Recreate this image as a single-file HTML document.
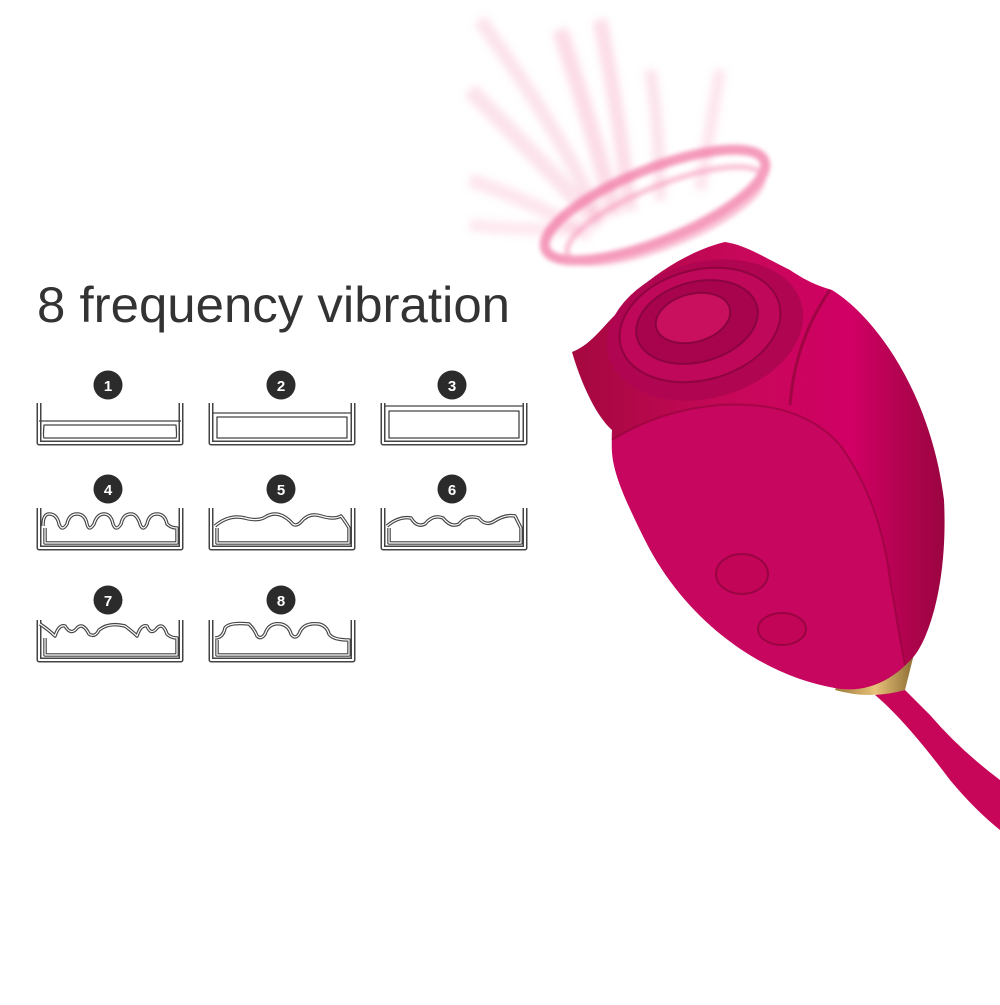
<!DOCTYPE html>
<html><head><meta charset="utf-8"><style>
body{margin:0;width:1000px;height:1000px;background:#fff;overflow:hidden;font-family:"Liberation Sans",sans-serif}
</style></head><body>
<svg width="1000" height="1000" viewBox="0 0 1000 1000" xmlns="http://www.w3.org/2000/svg">
<defs>
<filter id="bl" x="-50%" y="-50%" width="200%" height="200%"><feGaussianBlur stdDeviation="4"/></filter>
<filter id="bls" x="-50%" y="-50%" width="200%" height="200%"><feGaussianBlur stdDeviation="2"/></filter>
<filter id="bl2" x="-50%" y="-50%" width="200%" height="200%"><feGaussianBlur stdDeviation="8"/></filter>
<linearGradient id="bg" x1="0" y1="0" x2="1" y2="0">
<stop offset="0" stop-color="#a5083f"/><stop offset="0.45" stop-color="#c8085a"/><stop offset="0.75" stop-color="#d00064"/><stop offset="1" stop-color="#9a0540"/></linearGradient>
<linearGradient id="gold" x1="0" y1="0" x2="1" y2="0"><stop offset="0" stop-color="#9a7a3a"/><stop offset="0.5" stop-color="#e8c27a"/><stop offset="1" stop-color="#8a6a30"/></linearGradient>
</defs>
<text x="37" y="322" font-size="50" textLength="473" lengthAdjust="spacingAndGlyphs" fill="#333" font-family="Liberation Sans,sans-serif">8 frequency vibration</text>

<g fill="none" stroke-linejoin="round">
<g transform="translate(37,403)">
<path d="M2,0 V40 H144 V0" stroke="#444" stroke-width="5"/><path d="M2,0 V40 H144 V0" stroke="#fff" stroke-width="2"/>
<path d="M2,18 H144 M7,22 H139 Q140,34 139,35 H7 Q6,34 7,22Z" stroke="#444" stroke-width="1.3"/></g>
<g transform="translate(209,403)">
<path d="M2,0 V40 H144 V0" stroke="#444" stroke-width="5"/><path d="M2,0 V40 H144 V0" stroke="#fff" stroke-width="2"/>
<path d="M3,10 H143 M8,14 H138 V35 H8Z" stroke="#444" stroke-width="1.3"/></g>
<g transform="translate(381,403)">
<path d="M2,0 V40 H144 V0" stroke="#444" stroke-width="5"/><path d="M2,0 V40 H144 V0" stroke="#fff" stroke-width="2"/>
<path d="M3,3 H143 M8,8 H138 V35 H8Z" stroke="#444" stroke-width="1.3"/></g>

<g transform="translate(37,508)">
<path d="M2,0 V40 H144 V0" stroke="#444" stroke-width="5"/><path d="M2,0 V40 H144 V0" stroke="#fff" stroke-width="2"/>
<path d="M6,18 Q6,6 12,6 Q20,6 22,16 Q25,24 30,16 Q32,6 40,6 Q48,6 50,16 Q52,24 57,16 Q60,6 67,6 Q74,6 76,16 Q79,24 84,16 Q86,6 94,6 Q100,6 103,16 Q106,24 110,16 Q112,6 120,6 Q128,6 130,16 Q134,20 140,20 V35 H8 V20" stroke="#444" stroke-width="3.5"/>
<path d="M6,18 Q6,6 12,6 Q20,6 22,16 Q25,24 30,16 Q32,6 40,6 Q48,6 50,16 Q52,24 57,16 Q60,6 67,6 Q74,6 76,16 Q79,24 84,16 Q86,6 94,6 Q100,6 103,16 Q106,24 110,16 Q112,6 120,6 Q128,6 130,16 Q134,20 140,20 V35 H8 V20" stroke="#fff" stroke-width="1.2"/></g>
<g transform="translate(209,508)">
<path d="M2,0 V40 H144 V0" stroke="#444" stroke-width="5"/><path d="M2,0 V40 H144 V0" stroke="#fff" stroke-width="2"/>
<path d="M6,18 Q20,6 36,10 Q50,14 58,8 Q70,2 82,14 Q86,20 92,14 Q100,4 112,8 Q125,12 132,8 Q138,16 140,20 V35 H8 V20" stroke="#444" stroke-width="3.5"/>
<path d="M6,18 Q20,6 36,10 Q50,14 58,8 Q70,2 82,14 Q86,20 92,14 Q100,4 112,8 Q125,12 132,8 Q138,16 140,20 V35 H8 V20" stroke="#fff" stroke-width="1.2"/></g>
<g transform="translate(381,508)">
<path d="M2,0 V40 H144 V0" stroke="#444" stroke-width="5"/><path d="M2,0 V40 H144 V0" stroke="#fff" stroke-width="2"/>
<path d="M6,18 Q18,8 30,10 Q36,20 44,16 Q52,6 62,10 Q70,20 78,16 Q86,6 98,10 Q104,18 112,14 Q124,6 134,8 Q138,16 140,20 V35 H8 V20" stroke="#444" stroke-width="3.5"/>
<path d="M6,18 Q18,8 30,10 Q36,20 44,16 Q52,6 62,10 Q70,20 78,16 Q86,6 98,10 Q104,18 112,14 Q124,6 134,8 Q138,16 140,20 V35 H8 V20" stroke="#fff" stroke-width="1.2"/></g>

<g transform="translate(37,620)">
<path d="M2,0 V40 H144 V0" stroke="#444" stroke-width="5"/><path d="M2,0 V40 H144 V0" stroke="#fff" stroke-width="2"/>
<path d="M3,4 Q12,10 18,16 Q22,4 28,6 Q34,16 40,8 Q46,2 52,14 Q58,18 62,10 Q72,2 88,6 Q96,12 100,16 Q104,4 110,6 Q114,16 120,8 Q126,2 130,14 Q134,18 140,18 V35 H8 V18" stroke="#444" stroke-width="3.5"/>
<path d="M3,4 Q12,10 18,16 Q22,4 28,6 Q34,16 40,8 Q46,2 52,14 Q58,18 62,10 Q72,2 88,6 Q96,12 100,16 Q104,4 110,6 Q114,16 120,8 Q126,2 130,14 Q134,18 140,18 V35 H8 V18" stroke="#fff" stroke-width="1.2"/></g>
<g transform="translate(209,620)">
<path d="M2,0 V40 H144 V0" stroke="#444" stroke-width="5"/><path d="M2,0 V40 H144 V0" stroke="#fff" stroke-width="2"/>
<path d="M6,18 Q14,18 16,8 Q20,2 40,4 Q46,10 48,16 Q52,20 56,14 Q60,2 72,4 Q80,6 82,14 Q86,20 90,14 Q94,2 110,4 Q118,6 120,14 Q124,20 140,20 V35 H8 V20" stroke="#444" stroke-width="3.5"/>
<path d="M6,18 Q14,18 16,8 Q20,2 40,4 Q46,10 48,16 Q52,20 56,14 Q60,2 72,4 Q80,6 82,14 Q86,20 90,14 Q94,2 110,4 Q118,6 120,14 Q124,20 140,20 V35 H8 V20" stroke="#fff" stroke-width="1.2"/></g>
</g>

<g font-size="15" font-weight="bold" fill="#fff" text-anchor="middle">
<circle cx="108" cy="385" r="14.5" fill="#2b2b2b"/><text x="108" y="391">1</text>
<circle cx="281" cy="385" r="14.5" fill="#2b2b2b"/><text x="281" y="391">2</text>
<circle cx="452" cy="385" r="14.5" fill="#2b2b2b"/><text x="452" y="391">3</text>
<circle cx="108" cy="489" r="14.5" fill="#2b2b2b"/><text x="108" y="495">4</text>
<circle cx="281" cy="489" r="14.5" fill="#2b2b2b"/><text x="281" y="495">5</text>
<circle cx="452" cy="489" r="14.5" fill="#2b2b2b"/><text x="452" y="495">6</text>
<circle cx="108" cy="600" r="14.5" fill="#2b2b2b"/><text x="108" y="606">7</text>
<circle cx="281" cy="600" r="14.5" fill="#2b2b2b"/><text x="281" y="606">8</text>
</g>

<!-- motion blur -->
<g filter="url(#bl)" stroke="#f48ab0" fill="none">
<path d="M600,220 Q560,130 480,20" stroke-width="14" opacity="0.25"/>
<path d="M615,215 Q590,120 560,30" stroke-width="16" opacity="0.3"/>
<path d="M630,210 Q620,120 600,20" stroke-width="14" opacity="0.3"/>
<path d="M600,225 Q540,160 470,90" stroke-width="16" opacity="0.25"/>
<path d="M590,235 Q530,200 470,180" stroke-width="14" opacity="0.22"/>
<path d="M660,200 Q660,130 650,70" stroke-width="12" opacity="0.25"/>
<path d="M700,190 Q710,130 720,70" stroke-width="12" opacity="0.22"/>
<path d="M580,230 Q520,230 470,225" stroke-width="12" opacity="0.2"/>
</g>
<g filter="url(#bls)" fill="none">
<ellipse cx="655" cy="205" rx="118" ry="36" transform="rotate(-22 655 205)" stroke="#f27aa6" stroke-width="10" opacity="0.75"/>
<ellipse cx="665" cy="215" rx="105" ry="30" transform="rotate(-22 665 215)" stroke="#f7a0c0" stroke-width="6" opacity="0.6"/>
</g>

<!-- stem -->
<path d="M875,695 Q905,720 950,780 Q975,810 1000,830 L1000,780 Q960,750 930,715 Q915,700 905,690Z" fill="#c70659"/>
<!-- band -->
<path d="M835,690 Q870,700 905,690 L915,650 Q880,675 838,683Z" fill="url(#gold)"/>
<!-- body -->
<path d="M572,352 C590,345 600,330 615,315 C640,280 690,250 725,242 C745,245 760,255 790,270 C805,280 815,285 832,290 C880,320 932,400 944,500 C948,580 930,635 915,655 C890,685 860,693 835,688 C760,675 685,620 645,540 C620,490 610,460 612,430 C595,415 580,380 572,352Z" fill="url(#bg)"/>
<!-- lower petal -->
<path d="M612,440 Q660,410 720,405 Q800,400 840,445 Q880,500 890,580 Q900,640 905,665 Q880,690 835,688 C760,675 685,620 645,540 C620,490 610,465 612,440Z" fill="#c70660"/>
<path d="M612,440 Q660,410 720,405 Q800,400 840,445 Q880,500 890,580 Q900,640 905,665" fill="none" stroke="#8f0538" stroke-width="2" opacity="0.6"/>
<path d="M790,405 Q795,340 830,290" fill="none" stroke="#8f0538" stroke-width="3" opacity="0.7"/>
<ellipse cx="705" cy="330" rx="100" ry="68" transform="rotate(-15 705 330)" fill="#b00550"/>
<ellipse cx="700" cy="325" rx="82" ry="55" transform="rotate(-15 700 325)" fill="#c0085a" stroke="#8f0440" stroke-width="2"/>
<ellipse cx="697" cy="322" rx="62" ry="40" transform="rotate(-15 697 322)" fill="#a8044e" stroke="#8a0440" stroke-width="2"/>
<ellipse cx="693" cy="318" rx="38" ry="24" transform="rotate(-15 693 318)" fill="#c9105e" stroke="#8a0440" stroke-width="2"/>
<ellipse cx="742" cy="574" rx="26" ry="20" fill="#c30558" stroke="#990442" stroke-width="2"/>
<ellipse cx="782" cy="629" rx="24" ry="16" fill="#c30558" stroke="#990442" stroke-width="2"/>
</svg>
</body></html>
